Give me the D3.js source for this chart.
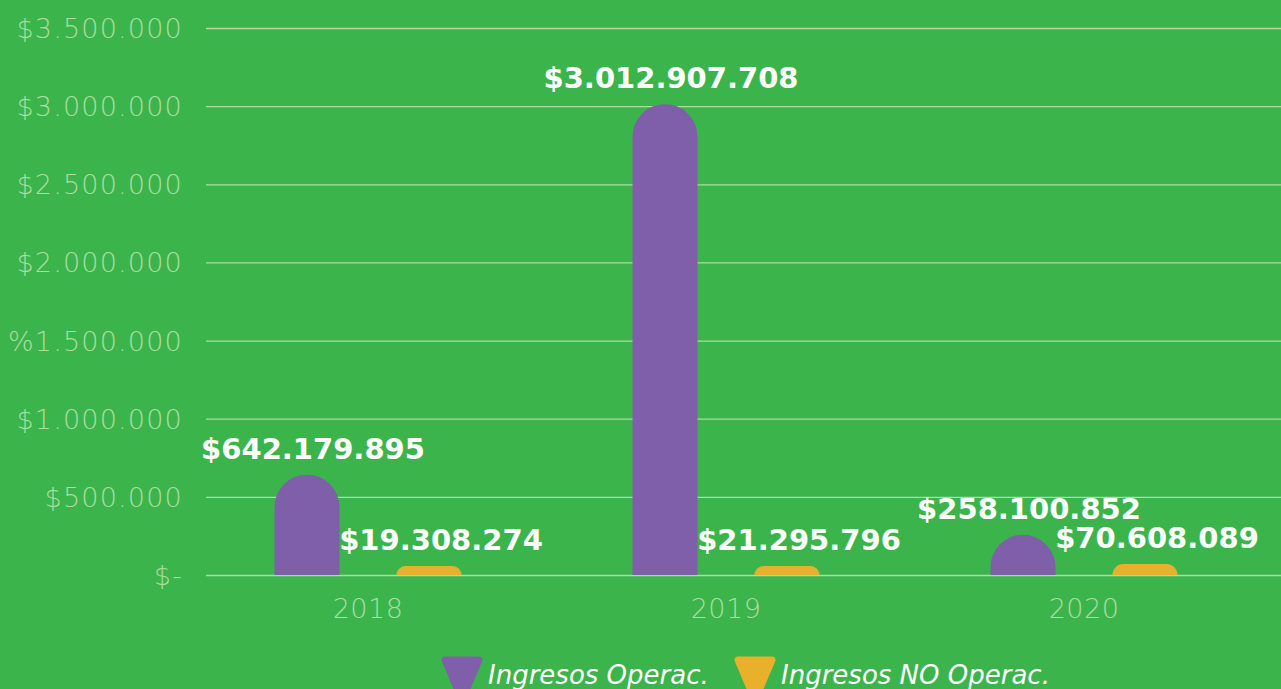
<!DOCTYPE html>
<html><head><meta charset="utf-8">
<script src="https://cdn.jsdelivr.net/npm/d3@7"></script>
<style>
html,body{margin:0;padding:0;background:#3bb54b;overflow:hidden}
svg{display:block}
</style></head>
<body>
<svg id="chart" width="1281" height="689"></svg>
<script>
const years = ["2018", "2019", "2020"];
const seriesNames = ["Ingresos Operac.", "Ingresos NO Operac."];
const operac = [642179895, 3012907708, 258100852];
const noOperac = [19308274, 21295796, 70608089];
const valueLabels = [["$642.179.895", "$19.308.274"], ["$3.012.907.708", "$21.295.796"], ["$258.100.852", "$70.608.089"]];
const tickValues = [0, 500000000, 1000000000, 1500000000, 2000000000, 2500000000, 3000000000, 3500000000];
const tickLabels = ["$-", "$500.000", "$1.000.000", "%1.500.000", "$2.000.000", "$2.500.000", "$3.000.000", "$3.500.000"];

const colors = ["#7f5fa9", "#e9b12b"];
const bg = "#3bb54b";
const pale = "#abdca2";

const svg = d3.select("#chart");
svg.append("rect").attr("width", 1281).attr("height", 689).attr("fill", bg);

const y = d3.scaleLinear().domain([0, 3500000000]).range([575, 28]);
const x0 = d3.scaleBand().domain(years).range([189, 1263]).paddingInner(0).paddingOuter(0);
const x1 = d3.scaleBand().domain(seriesNames).range([-93.5, 93.5]).paddingInner(0.467).paddingOuter(0);

// grid
const yAxis = d3.axisLeft(y).tickValues(tickValues).tickSize(-(1281 - 206)).tickPadding(23)
  .tickFormat((d, i) => tickLabels[i]);
const gy = svg.append("g").attr("transform", "translate(206,0)").call(yAxis);
gy.select(".domain").remove();
gy.selectAll(".tick line").attr("stroke", pale).attr("stroke-width", 1.3);
gy.selectAll(".tick text").attr("fill", pale).attr("font-family", "DejaVu Sans")
  .attr("font-weight", 200).attr("font-size", 27).attr("letter-spacing", 1.2).attr("dy", "0.35em");

// x axis labels
const xAxis = d3.axisBottom(x0).tickSize(0).tickPadding(24);
const gx = svg.append("g").attr("transform", "translate(0,575)").call(xAxis);
gx.select(".domain").remove();
gx.selectAll(".tick text").attr("fill", pale).attr("font-family", "DejaVu Sans")
  .attr("font-weight", 200).attr("font-size", 27).attr("letter-spacing", 0.5);

const data = years.map((yr, i) => ({year: yr, vals: [operac[i], noOperac[i]], labels: valueLabels[i]}));

function barPath(cx, w, top, base) {
  const h = base - top;
  const r = Math.min(w / 2, h);
  const l = cx - w / 2, rr = cx + w / 2;
  return `M${l},${base}L${l},${top + r}A${r},${r} 0 0 1 ${l + r},${top}L${rr - r},${top}A${r},${r} 0 0 1 ${rr},${top + r}L${rr},${base}Z`;
}

const groups = svg.append("g").selectAll("g").data(data).join("g")
  .attr("transform", d => `translate(${x0(d.year) + x0.bandwidth() / 2},0)`);

groups.each(function(d) {
  const g = d3.select(this);
  seriesNames.forEach((s, j) => {
    const cx = x1(s) + x1.bandwidth() / 2;
    const base = y(0);
    const top = Math.min(y(d.vals[j]), base - 9);
    g.append("path").attr("d", barPath(cx, x1.bandwidth(), top, base)).attr("fill", colors[j]);
    g.append("text").attr("x", cx + (j === 1 ? 12 : 6)).attr("y", top - 16)
      .attr("text-anchor", "middle").attr("fill", "#fff")
      .attr("font-family", "DejaVu Sans").attr("font-weight", 700).attr("font-size", 29)
      .text(d.labels[j]);
  });
});

// legend
const legend = svg.append("g");
const legendX = [462, 755];
seriesNames.forEach((s, j) => {
  const cx = legendX[j];
  legend.append("path")
    .attr("d", `M${cx - 17},660L${cx + 17},660L${cx},700Z`)
    .attr("fill", colors[j]).attr("stroke", colors[j]).attr("stroke-width", 7).attr("stroke-linejoin", "round");
  legend.append("text").attr("x", cx + 26).attr("y", 684)
    .attr("fill", "#fff").attr("font-family", "DejaVu Sans").attr("font-style", "italic")
    .attr("font-weight", 200).attr("font-size", 26).text(s);
});
</script>
</body></html>
